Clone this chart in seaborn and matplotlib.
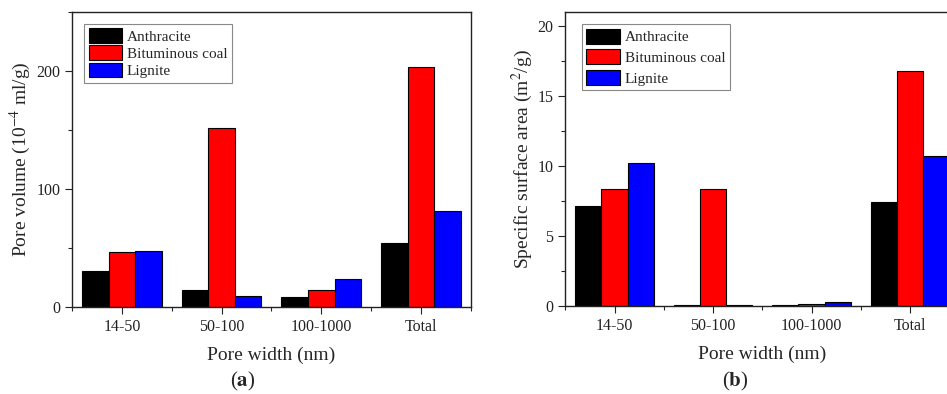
import pandas as pd
import seaborn as sns
import matplotlib.pyplot as plt
from matplotlib.ticker import MultipleLocator, FixedLocator

'''
DATA
'''
pore_widths = ['14-50', '50-100', '100-1000', 'Total']
coals = ['Anthracite', 'Bituminous coal', 'Lignite']
coal_colors = ['#000000', '#ff0000', '#0000ff']

volume_anthracite = [30.5, 14.1, 8.2, 54.0]
volume_bituminous = [46.5, 151.4, 14.1, 203.0]
volume_lignite = [47.7, 9.3, 23.4, 81.4]

area_anthracite = [7.17, 0.10, 0.10, 7.45]
area_bituminous = [8.33, 8.33, 0.15, 16.8]
area_lignite = [10.21, 0.10, 0.25, 10.69]


def long_df(series_list):
    rows = []
    for coal, values in zip(coals, series_list):
        for width, v in zip(pore_widths, values):
            rows.append({'width': width, 'coal': coal, 'value': v})
    return pd.DataFrame(rows)


volume_df = long_df([volume_anthracite, volume_bituminous, volume_lignite])
area_df = long_df([area_anthracite, area_bituminous, area_lignite])

'''
STYLE
'''
sns.set_style('ticks')
plt.rcParams['font.family'] = ['Liberation Serif', 'DejaVu Serif']
plt.rcParams['mathtext.fontset'] = 'stix'
plt.rcParams['axes.linewidth'] = 1.0

fig = plt.figure(figsize=(9.47, 3.94), dpi=100)
ax_a = fig.add_axes([0.076, 0.2208, 0.4213, 0.7487])
ax_b = fig.add_axes([0.597, 0.2234, 0.416, 0.7462])


def draw_panel(ax, df, ylim, major, minor, ylabel, leg_anchor, leg_spacing, ypad):
    sns.barplot(data=df, x='width', y='value', hue='coal', order=pore_widths,
                hue_order=coals, palette=coal_colors, edgecolor='black',
                linewidth=0.8, width=0.8, ax=ax, saturation=1)
    ax.set_xlim(-0.5, 3.5)
    ax.set_ylim(*ylim)
    ax.yaxis.set_major_locator(MultipleLocator(major))
    ax.yaxis.set_minor_locator(MultipleLocator(minor))
    ax.xaxis.set_minor_locator(FixedLocator([-0.5, 0.5, 1.5, 2.5, 3.5]))
    ax.tick_params(which='major', direction='out', length=5, width=0.8,
                   labelsize=11.5, colors='#222222')
    ax.tick_params(which='minor', direction='out', length=3, width=0.8)
    for side in ['top', 'right', 'left', 'bottom']:
        ax.spines[side].set_visible(True)
        ax.spines[side].set_color('#222222')
    ax.set_xlabel('Pore width (nm)', fontsize=14, labelpad=8.5)
    ax.set_ylabel(ylabel, fontsize=14, labelpad=ypad)
    leg = ax.legend(loc='upper left', bbox_to_anchor=leg_anchor,
                    borderaxespad=0, fontsize=11, handlelength=2.2,
                    handleheight=1.1, handletextpad=0.3,
                    labelspacing=leg_spacing, borderpad=0.3,
                    fancybox=False, framealpha=1, edgecolor='#888888')
    leg.get_frame().set_linewidth(0.8)


draw_panel(ax_a, volume_df, (0, 250), 100, 50,
           'Pore volume (10$^{-4}$ ml/g)', (0.03, 0.96), 0.1, 2)
draw_panel(ax_b, area_df, (0, 21), 5, 2.5,
           'Specific surface area (m$^{2}$/g)', (0.042, 0.958), 0.33, 2)

fig.text(243 / 947, 1 - 381 / 394, '($\\mathbf{a}$)', ha='center',
         va='center', fontsize=15)
fig.text(735 / 947, 1 - 381 / 394, '($\\mathbf{b}$)', ha='center',
         va='center', fontsize=15)

fig.savefig('out.png', dpi=100)
